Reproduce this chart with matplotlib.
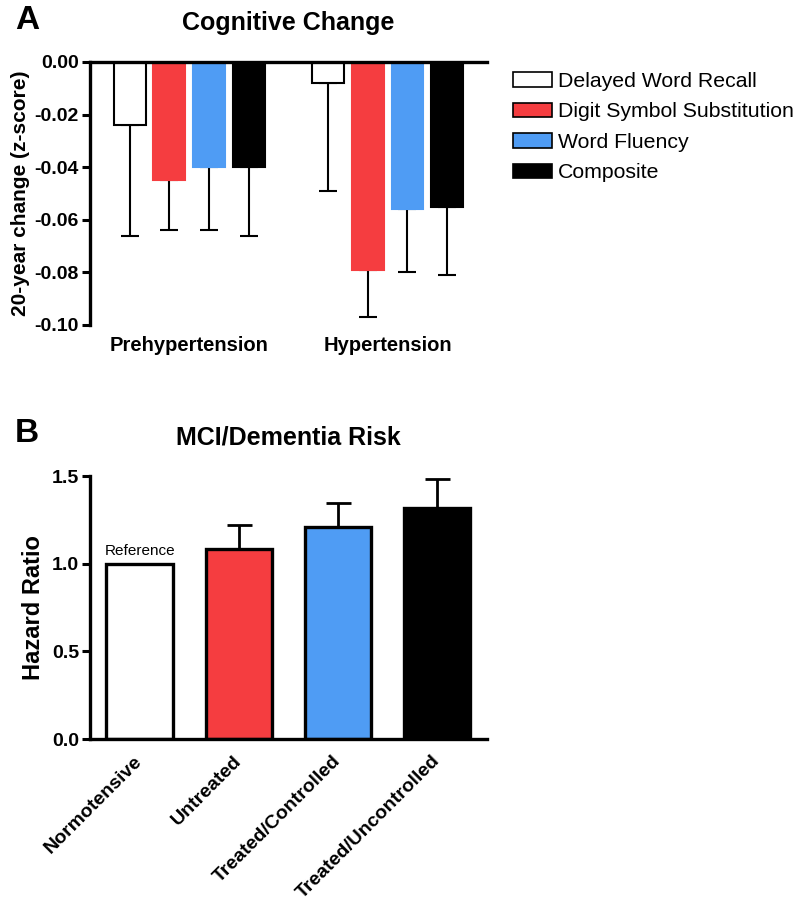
import matplotlib
matplotlib.use("Agg")
import matplotlib.pyplot as plt
from matplotlib.patches import Patch

plt.rcParams['font.family'] = ['Liberation Sans', 'DejaVu Sans']
plt.rcParams['axes.unicode_minus'] = False

# panel A data
groups_a = ['Prehypertension', 'Hypertension']
measures = ['Delayed Word Recall', 'Digit Symbol Substitution', 'Word Fluency', 'Composite']
pre_vals = [-0.024, -0.045, -0.040, -0.040]
pre_err = [0.042, 0.019, 0.024, 0.026]
hyp_vals = [-0.008, -0.079, -0.056, -0.055]
hyp_err = [0.041, 0.018, 0.024, 0.026]

# panel B data
groups_b = ['Normotensive', 'Untreated', 'Treated/Controlled', 'Treated/Uncontrolled']
hr_vals = [1.0, 1.085, 1.207, 1.316]
hr_err = [0.0, 0.135, 0.14, 0.165]

colors = ['white', '#f53d40', '#4f9cf4', 'black']

fig = plt.figure(figsize=(8, 9.05), dpi=100)

# ---- panel A
ax = fig.add_axes([0.1125, 0.6409, 0.496, 0.2906])
for i in range(4):
    xs = [1 + i, 6 + i]
    vals = [pre_vals[i], hyp_vals[i]]
    errs = [pre_err[i], hyp_err[i]]
    ec = 'black' if colors[i] == 'white' else colors[i]
    ax.bar(xs, vals, width=0.8, color=colors[i], edgecolor=ec, linewidth=1.5, zorder=2)
    ax.errorbar(xs, vals, yerr=[errs, [0, 0]], fmt='none', ecolor='black',
                elinewidth=1.5, capsize=6.5, capthick=1.5, zorder=1)
ax.set_xlim(0, 10)
ax.set_ylim(-0.10, 0.0)
ax.set_yticks([0.0, -0.02, -0.04, -0.06, -0.08, -0.10])
ax.set_yticklabels(['0.00', '-0.02', '-0.04', '-0.06', '-0.08', '-0.10'])
ax.set_xticks([2.5, 7.5])
ax.set_xticklabels(groups_a, fontsize=14.5, fontweight='bold')
ax.tick_params(axis='x', length=0, pad=8)
ax.tick_params(axis='y', width=2.2, length=6, labelsize=14, pad=2)
for lbl in ax.get_yticklabels():
    lbl.set_fontweight('bold')
ax.spines['right'].set_visible(False)
ax.spines['bottom'].set_visible(False)
ax.spines['left'].set_linewidth(2.4)
ax.spines['top'].set_linewidth(2.4)
ax.set_ylabel('20-year change (z-score)', fontsize=15, fontweight='bold', labelpad=3)
ax.set_title('Cognitive Change', fontsize=18, fontweight='bold', pad=23)

handles = [Patch(facecolor=c, edgecolor='black', linewidth=1.2) for c in colors]
fig.legend(handles, measures, loc='upper left', bbox_to_anchor=(0.631, 0.930),
           frameon=False, fontsize=15.3, handlelength=1.8, handleheight=0.66,
           handletextpad=0.28, labelspacing=0.54, borderaxespad=0)

fig.text(0.019, 0.977, 'A', fontsize=24, fontweight='bold', va='center')

# ---- panel B
bx = fig.add_axes([0.1125, 0.1834, 0.496, 0.2906])
pos = [0.5, 1.5, 2.5, 3.5]
bx.bar(pos, hr_vals, width=0.67, color=colors, edgecolor='black', linewidth=2.4, zorder=2)
bx.errorbar(pos[1:], hr_vals[1:], yerr=[[0, 0, 0], hr_err[1:]], fmt='none', ecolor='black',
            elinewidth=2, capsize=9, capthick=2, zorder=1)
bx.text(pos[0], hr_vals[0] + 0.03, 'Reference', ha='center', va='bottom', fontsize=11)
bx.set_xlim(0, 4)
bx.set_ylim(0, 1.5)
bx.set_yticks([0.0, 0.5, 1.0, 1.5])
bx.set_yticklabels(['0.0', '0.5', '1.0', '1.5'])
bx.set_xticks(pos)
bx.set_xticklabels(groups_b, rotation=45, ha='right', va='center', rotation_mode='anchor',
                   fontsize=14, fontweight='bold')
bx.tick_params(axis='x', length=0, pad=14)
bx.tick_params(axis='y', width=2.2, length=6, labelsize=14, pad=2)
for lbl in bx.get_yticklabels():
    lbl.set_fontweight('bold')
bx.spines['right'].set_visible(False)
bx.spines['top'].set_visible(False)
bx.spines['left'].set_linewidth(2.4)
bx.spines['bottom'].set_linewidth(2.4)
bx.set_ylabel('Hazard Ratio', fontsize=17, fontweight='bold', labelpad=5)
bx.set_title('MCI/Dementia Risk', fontsize=18, fontweight='bold', pad=23)

fig.text(0.019, 0.5215, 'B', fontsize=24, fontweight='bold', va='center')

fig.savefig('out.png', dpi=100)
